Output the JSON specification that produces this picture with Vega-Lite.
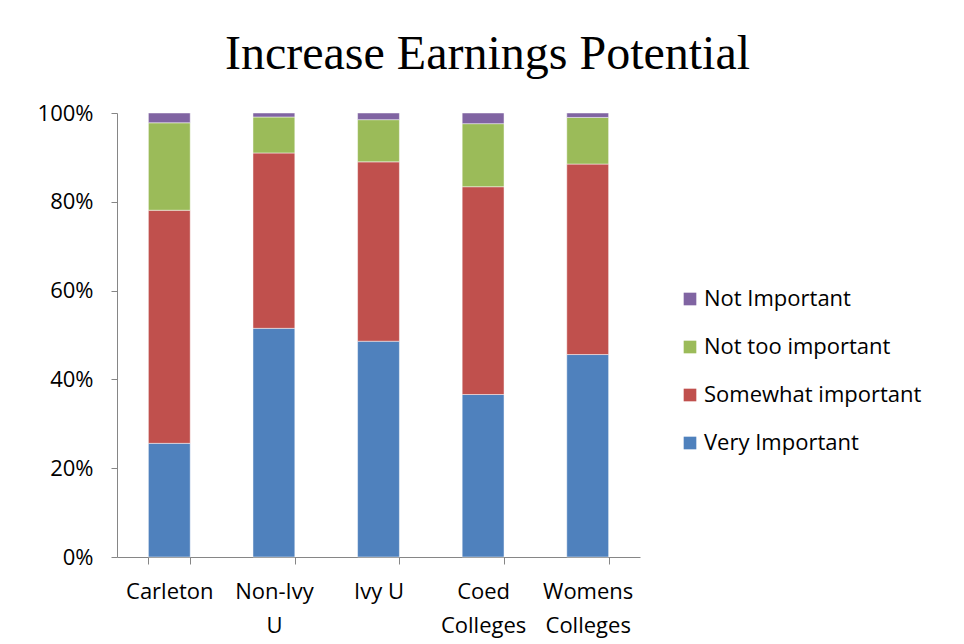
{
  "$schema": "https://vega.github.io/schema/vega-lite/v6.json",
  "width": 523,
  "height": 444,
  "autosize": "none",
  "padding": {"left": 117, "top": 113, "right": 324, "bottom": 87},
  "background": "white",
  "title": {
    "text": "Increase Earnings Potential",
    "font": "Liberation Serif",
    "fontSize": 48,
    "fontWeight": "normal",
    "color": "black",
    "anchor": "middle",
    "frame": "group",
    "dx": 109,
    "offset": 23
  },
  "data": {
    "values": [
      {"school": "Carleton", "level": "Very Important", "pct": 25.6},
      {"school": "Carleton", "level": "Somewhat important", "pct": 52.5},
      {"school": "Carleton", "level": "Not too important", "pct": 19.7},
      {"school": "Carleton", "level": "Not Important", "pct": 2.2},
      {"school": "Non-Ivy U", "level": "Very Important", "pct": 51.5},
      {"school": "Non-Ivy U", "level": "Somewhat important", "pct": 39.5},
      {"school": "Non-Ivy U", "level": "Not too important", "pct": 8.1},
      {"school": "Non-Ivy U", "level": "Not Important", "pct": 0.9},
      {"school": "Ivy U", "level": "Very Important", "pct": 48.6},
      {"school": "Ivy U", "level": "Somewhat important", "pct": 40.4},
      {"school": "Ivy U", "level": "Not too important", "pct": 9.5},
      {"school": "Ivy U", "level": "Not Important", "pct": 1.5},
      {"school": "Coed Colleges", "level": "Very Important", "pct": 36.6},
      {"school": "Coed Colleges", "level": "Somewhat important", "pct": 46.8},
      {"school": "Coed Colleges", "level": "Not too important", "pct": 14.2},
      {"school": "Coed Colleges", "level": "Not Important", "pct": 2.4},
      {"school": "Womens Colleges", "level": "Very Important", "pct": 45.6},
      {"school": "Womens Colleges", "level": "Somewhat important", "pct": 42.9},
      {"school": "Womens Colleges", "level": "Not too important", "pct": 10.5},
      {"school": "Womens Colleges", "level": "Not Important", "pct": 1.0}
    ]
  },
  "mark": {"type": "bar", "stroke": "white", "strokeOpacity": 0.6, "strokeWidth": 0.8},
  "encoding": {
    "x": {
      "field": "school",
      "type": "nominal",
      "sort": ["Carleton", "Non-Ivy U", "Ivy U", "Coed Colleges", "Womens Colleges"],
      "scale": {"paddingInner": 0.6, "paddingOuter": 0.3},
      "axis": {
        "title": null,
        "labelAngle": 0,
        "tickBand": "extent",
        "domainColor": "#868686",
        "tickColor": "#868686",
        "tickSize": 7,
        "labelPadding": 17,
        "labelFont": "Open Sans",
        "labelFontSize": 22,
        "labelColor": "black",
        "labelLineHeight": 34,
        "labelLimit": 200,
        "labelExpr": "datum.label == 'Ivy U' ? datum.label : split(datum.label, ' ')"
      }
    },
    "y": {
      "field": "pct",
      "type": "quantitative",
      "stack": "normalize",
      "scale": {"domain": [0, 1]},
      "axis": {
        "title": null,
        "format": "%",
        "values": [0, 0.2, 0.4, 0.6, 0.8, 1],
        "grid": false,
        "domainColor": "#868686",
        "tickColor": "#868686",
        "tickSize": 6,
        "labelPadding": 18,
        "labelFont": "Open Sans",
        "labelFontSize": 22,
        "labelColor": "black"
      }
    },
    "color": {
      "field": "level",
      "type": "nominal",
      "scale": {
        "domain": ["Not Important", "Not too important", "Somewhat important", "Very Important"],
        "range": ["#8064A2", "#9BBB59", "#C0504D", "#4F81BD"]
      },
      "legend": {
        "title": null,
        "orient": "none",
        "legendX": 562,
        "legendY": 175,
        "symbolType": "square",
        "symbolSize": 160,
        "symbolStrokeWidth": 0,
        "labelFont": "Open Sans",
        "labelFontSize": 22,
        "labelColor": "black",
        "labelOffset": 3,
        "labelLimit": 400,
        "rowPadding": 26
      }
    },
    "order": {"field": "level", "sort": "descending"}
  },
  "config": {"view": {"stroke": null}}
}
